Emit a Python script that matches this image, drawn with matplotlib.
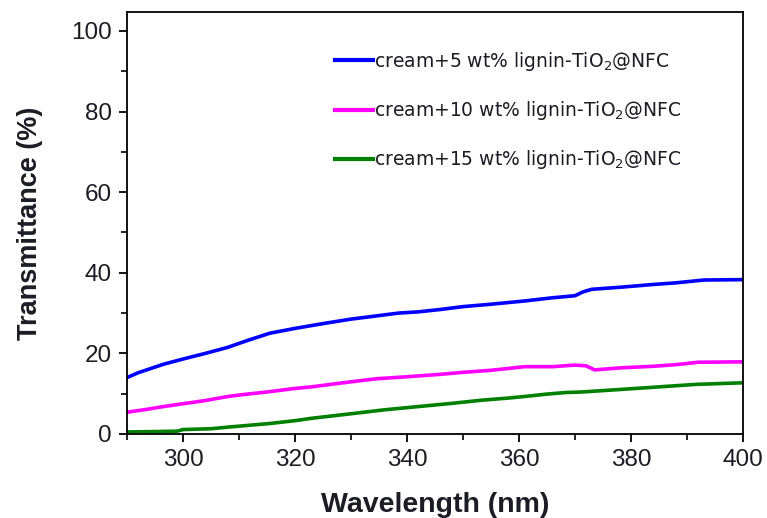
import numpy as np
import matplotlib
matplotlib.use("Agg")
import matplotlib.pyplot as plt
from matplotlib.ticker import MultipleLocator

plt.rcParams['font.family'] = ['Liberation Sans', 'DejaVu Sans']
plt.rcParams['mathtext.fontset'] = 'custom'
plt.rcParams['mathtext.rm'] = 'DejaVu Sans'
plt.rcParams['mathtext.it'] = 'DejaVu Sans'

# --- values ---
wl_5 = [290, 292, 296.5, 300, 304, 308, 311.5, 315.5, 320, 325.5, 330, 334, 338.5, 342,
        346, 350, 355, 361, 366, 370, 371.5, 373, 378, 384, 388, 393, 400]
t_5 = [14.0, 15.2, 17.3, 18.6, 20.0, 21.5, 23.2, 25.0, 26.2, 27.5, 28.5, 29.2, 30.0, 30.3,
       30.9, 31.6, 32.2, 33.0, 33.8, 34.3, 35.3, 35.9, 36.4, 37.1, 37.5, 38.2, 38.3]

wl_10 = [290, 293, 296.5, 300, 304, 308, 311.5, 315.5, 320, 323, 328, 334.5, 340, 346,
         350, 355, 361, 366, 370, 372, 373.5, 378, 384, 388, 392, 400]
t_10 = [5.4, 6.0, 6.8, 7.5, 8.3, 9.3, 9.9, 10.5, 11.3, 11.7, 12.6, 13.7, 14.2, 14.8,
        15.3, 15.8, 16.7, 16.7, 17.1, 16.9, 15.9, 16.4, 16.8, 17.2, 17.8, 17.9]

wl_15 = [290, 295, 299, 300, 305, 308, 315.5, 320, 323, 330.5, 336, 342, 348, 353.5,
         358, 361, 365, 368.5, 371, 376.5, 383, 391.5, 400]
t_15 = [0.5, 0.6, 0.7, 1.1, 1.3, 1.7, 2.6, 3.3, 3.9, 5.1, 6.0, 6.8, 7.6, 8.4,
        8.9, 9.3, 9.9, 10.3, 10.4, 10.9, 11.5, 12.3, 12.7]

labels = ["cream+5 wt% lignin-TiO$_2$@NFC",
          "cream+10 wt% lignin-TiO$_2$@NFC",
          "cream+15 wt% lignin-TiO$_2$@NFC"]
colors = ["#0000ff", "#ff00ff", "#008000"]
ink = '#1c1c24'

fig = plt.figure(figsize=(7.67, 5.18), dpi=100)
ax = fig.add_axes([0.1656, 0.1622, 0.8031, 0.8146])

for x, y, lab, c in zip([wl_5, wl_10, wl_15], [t_5, t_10, t_15], labels, colors):
    ax.plot(x, y, color=c, lw=2.6, label=lab)

ax.set_xlim(290, 400)
ax.set_ylim(0, 104.7)
ax.xaxis.set_major_locator(MultipleLocator(20))
ax.xaxis.set_minor_locator(MultipleLocator(10))
ax.yaxis.set_major_locator(MultipleLocator(20))
ax.yaxis.set_minor_locator(MultipleLocator(10))
ax.set_xticks([300, 320, 340, 360, 380, 400])
ax.tick_params(which='major', direction='out', length=6, width=1.3, labelsize=17.5, pad=5,
               labelcolor=ink)
ax.tick_params(which='minor', direction='out', length=4.5, width=1.2)
for s in ax.spines.values():
    s.set_linewidth(1.3)

ax.set_xlabel("Wavelength (nm)", fontsize=20.5, fontweight='bold', color=ink, labelpad=15)
ax.set_ylabel("Transmittance (%)", fontsize=19.5, fontweight='bold', color=ink, labelpad=20)

leg = ax.legend(loc='upper left', bbox_to_anchor=(0.3377, 0.91), frameon=False,
                borderaxespad=0, borderpad=0,
                prop={'family': 'DejaVu Sans', 'size': 13.5},
                handlelength=2.0, handletextpad=0.1, labelspacing=1.4)
for t in leg.get_texts():
    t.set_color(ink)
for h in leg.get_lines():
    h.set_linewidth(3)

fig.savefig("out.png", dpi=100)
